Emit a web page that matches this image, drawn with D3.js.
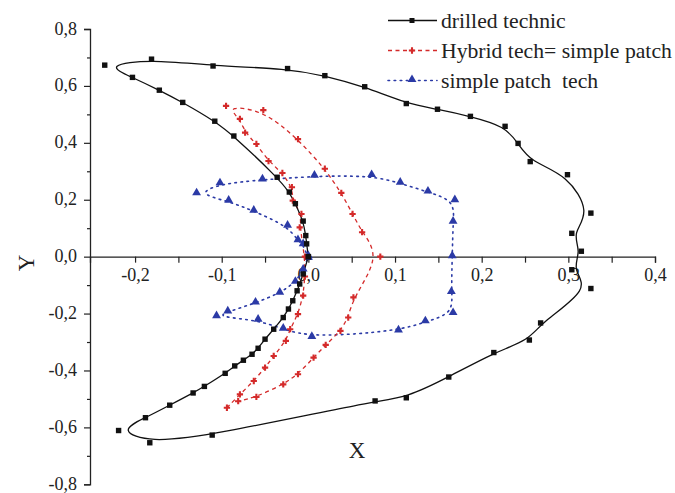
<!DOCTYPE html>
<html>
<head>
<meta charset="utf-8">
<script src="https://cdn.jsdelivr.net/npm/d3@7"></script>
<style>
  html, body { margin: 0; padding: 0; background: #fff; }
  svg { display: block; }
  text { font-family: "Liberation Serif", "Times New Roman", serif; fill: #222; }
</style>
</head>
<body>
<script>
// ---------------- data ----------------
const drilledX = [0.000,-0.002,-0.003,-0.006,-0.015,-0.022,-0.036,-0.086,-0.108,-0.145,-0.172,-0.203,-0.235,-0.181,-0.110,-0.024,0.019,0.065,0.113,0.149,0.187,0.227,0.242,0.256,0.299,0.326,0.304,0.315,0.304,0.326,0.268,0.255,0.214,0.162,0.113,0.077,-0.111,-0.183,-0.219,-0.188,-0.160,-0.133,-0.120,-0.096,-0.085,-0.075,-0.065,-0.058,-0.050,-0.040,-0.029,-0.023,-0.018,-0.013,-0.010,-0.006,0.000];
const drilledY = [0.000,0.045,0.074,0.125,0.186,0.227,0.279,0.424,0.476,0.542,0.585,0.630,0.673,0.694,0.670,0.661,0.636,0.597,0.538,0.518,0.493,0.458,0.398,0.334,0.288,0.153,0.082,0.019,-0.046,-0.112,-0.233,-0.293,-0.337,-0.423,-0.496,-0.507,-0.627,-0.654,-0.611,-0.566,-0.522,-0.479,-0.456,-0.410,-0.384,-0.364,-0.343,-0.322,-0.290,-0.255,-0.214,-0.184,-0.155,-0.120,-0.096,-0.061,0.000];

const hybridX = [-0.094,-0.079,-0.063,-0.050,-0.040,-0.026,-0.021,-0.012,-0.006,-0.004,-0.004,-0.010,-0.008,-0.018,-0.019,-0.030,-0.046,-0.060,-0.073,-0.079,-0.095,-0.052,-0.012,0.019,0.038,0.051,0.062,0.083,0.052,0.046,0.037,0.020,0.006,-0.012,-0.029,-0.060,-0.081];
const hybridY = [-0.531,-0.484,-0.437,-0.390,-0.349,-0.296,-0.255,-0.202,-0.137,-0.070,0.000,0.103,0.150,0.197,0.244,0.294,0.336,0.396,0.436,0.484,0.530,0.515,0.413,0.309,0.224,0.150,0.086,0.000,-0.143,-0.214,-0.261,-0.310,-0.355,-0.413,-0.449,-0.493,-0.508];

const patchX = [0.000,-0.006,-0.012,-0.024,-0.063,-0.092,-0.129,-0.102,-0.053,0.007,0.073,0.106,0.138,0.169,0.167,0.166,0.165,0.167,0.135,0.104,0.004,-0.029,-0.058,-0.106,-0.093,-0.061,-0.033,-0.015,-0.006,0.000];
const patchY = [-0.006,0.042,0.056,0.107,0.160,0.195,0.221,0.256,0.270,0.283,0.285,0.258,0.227,0.197,0.121,0.000,-0.126,-0.200,-0.229,-0.261,-0.284,-0.255,-0.223,-0.211,-0.194,-0.163,-0.128,-0.090,-0.047,0.000];

const seriesNames = ["drilled technic", "Hybrid tech= simple patch", "simple patch  tech"];
const xTickValues = [-0.2,-0.1,0.0,0.1,0.2,0.3,0.4];
const yTickValues = [-0.8,-0.6,-0.4,-0.2,0.0,0.2,0.4,0.6,0.8];
const xDomain = [-0.252, 0.4];
const yDomain = [-0.8, 0.8];

// ---------------- layout ----------------
const W = 675, H = 493;
const mLeft = 90, mRight = 655, mTop = 29, mBottom = 484.3;

const svg = d3.select("body").append("svg").attr("width", W).attr("height", H);

const x = d3.scaleLinear().domain(xDomain).range([mLeft, mRight]);
const y = d3.scaleLinear().domain(yDomain).range([mBottom, mTop]);

const fmt = d => (d < -1e-9 ? "-" : "") + Math.abs(d).toFixed(1).replace(".", ",");

// Y axis (at left)
const yAxis = d3.axisLeft(y).tickValues(yTickValues).tickFormat(fmt).tickSize(6).tickPadding(7);
const yMinor = d3.axisLeft(y).tickValues(d3.range(-0.7, 0.8, 0.2)).tickFormat("").tickSize(3);
const gy = svg.append("g").attr("transform", `translate(${mLeft},0)`).call(yAxis);
const gyMinor = svg.append("g").attr("transform", `translate(${mLeft},0)`).call(yMinor);
[gy, gyMinor].forEach(g => {
  g.select(".domain").attr("stroke", "#222").attr("stroke-width", 1.3);
  g.selectAll(".tick line").attr("stroke", "#222").attr("stroke-width", 1.2);
});
gy.selectAll(".tick text").attr("font-size", 18).attr("font-family", "Liberation Serif").attr("fill", "#333").attr("dy", "0.28em");
gyMinor.select(".domain").remove();

// X axis (crossing at y = 0)
const y0 = y(0);
const xAxis = d3.axisBottom(x).tickValues(xTickValues).tickFormat(fmt).tickSize(6).tickPadding(6);
const xMinor = d3.axisBottom(x).tickValues([-0.15,-0.05,0.05,0.15,0.25,0.35]).tickFormat("").tickSize(6);
const gx = svg.append("g").attr("transform", `translate(0,${y0})`).call(xAxis);
const gxMinor = svg.append("g").attr("transform", `translate(0,${y0})`).call(xMinor);
[gx, gxMinor].forEach(g => {
  g.select(".domain").attr("stroke", "#222").attr("stroke-width", 1.3);
  g.selectAll(".tick line").attr("stroke", "#222").attr("stroke-width", 1.2);
});
gx.selectAll(".tick text").attr("font-size", 18).attr("font-family", "Liberation Serif").attr("fill", "#333");
gxMinor.select(".domain").remove();

// Axis titles
svg.append("text").attr("x", 357).attr("y", 450).attr("text-anchor", "middle")
  .attr("dominant-baseline", "central").attr("font-size", 23).text("X");
svg.append("text").attr("transform", "translate(26,263) rotate(-90)").attr("text-anchor", "middle")
  .attr("dominant-baseline", "central").attr("font-size", 23).text("Y");

// ---------------- series ----------------
const line = d3.line().x(d => x(d[0])).y(d => y(d[1])).curve(d3.curveBasis);

const colBlack = "#111", colRed = "#d42a2a", colBlue = "#2b3aa6";

const drilled = drilledX.map((v, i) => [v, drilledY[i]]);
const hybrid = hybridX.map((v, i) => [v, hybridY[i]]);
const patch = patchX.map((v, i) => [v, patchY[i]]);

// blue dotted
svg.append("path").datum(patch).attr("d", line).attr("fill", "none")
  .attr("stroke", colBlue).attr("stroke-width", 1.6).attr("stroke-dasharray", "1.6,4.5").attr("stroke-linecap", "round");
// red dashed
svg.append("path").datum(hybrid).attr("d", line).attr("fill", "none")
  .attr("stroke", colRed).attr("stroke-width", 1.3).attr("stroke-dasharray", "4,3.5");
// black solid
svg.append("path").datum(drilled).attr("d", line).attr("fill", "none")
  .attr("stroke", colBlack).attr("stroke-width", 1.3);

const tri = d3.symbol().type(d3.symbolTriangle).size(34);
const cross = d3.symbol().type(d3.symbolCross).size(22);

svg.append("g").selectAll("path").data(patch).join("path")
  .attr("d", tri).attr("transform", d => `translate(${x(d[0])},${y(d[1]) - 1})`).attr("fill", colBlue);
svg.append("g").selectAll("path").data(hybrid).join("path")
  .attr("d", cross).attr("transform", d => `translate(${x(d[0])},${y(d[1])})`).attr("fill", colRed);
svg.append("g").selectAll("rect").data(drilled).join("rect")
  .attr("x", d => x(d[0]) - 2.7).attr("y", d => y(d[1]) - 2.7)
  .attr("width", 5.4).attr("height", 5.4).attr("fill", colBlack);

// ---------------- legend ----------------
const legY = [20.5, 50.5, 80.5];
const lg = svg.append("g");
const lx0 = 388, lx1 = 437, lxm = 412;
lg.append("line").attr("x1", lx0).attr("x2", lx1).attr("y1", legY[0]).attr("y2", legY[0])
  .attr("stroke", colBlack).attr("stroke-width", 1.3);
lg.append("rect").attr("x", lxm - 2.5).attr("y", legY[0] - 2.5).attr("width", 5).attr("height", 5).attr("fill", colBlack);
lg.append("line").attr("x1", lx0).attr("x2", lx1).attr("y1", legY[1]).attr("y2", legY[1])
  .attr("stroke", colRed).attr("stroke-width", 1.3).attr("stroke-dasharray", "4,3.5");
lg.append("path").attr("d", cross).attr("transform", `translate(${lxm},${legY[1]})`).attr("fill", colRed);
lg.append("line").attr("x1", lx0).attr("x2", lx1).attr("y1", legY[2]).attr("y2", legY[2])
  .attr("stroke", colBlue).attr("stroke-width", 1.6).attr("stroke-dasharray", "1.6,4.5").attr("stroke-linecap", "round");
lg.append("path").attr("d", tri).attr("transform", `translate(${lxm},${legY[2] - 1})`).attr("fill", colBlue);

seriesNames.forEach((n, i) => {
  lg.append("text").attr("x", 441).attr("y", legY[i]).attr("dominant-baseline", "central")
    .attr("font-size", 21.7).style("white-space", "pre").text(n);
});
</script>
</body>
</html>
